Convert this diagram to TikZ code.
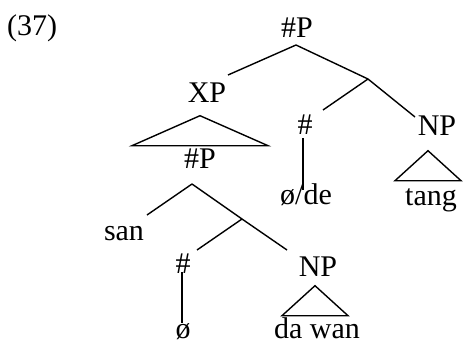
\documentclass[tikz,border=0pt]{standalone}
\usepackage{fontspec}
\setmainfont{Liberation Serif}

\begin{document}
\begin{tikzpicture}[x=1pt,y=-1pt,line width=1.4pt,
	lbl/.style={anchor=base,inner sep=0pt,font=\fontsize{30}{36}\selectfont}]
	\useasboundingbox (0,0) rectangle (463,340);
	% labels
	\node[lbl](ex) at (32,35) {(37)};
	\node[lbl](top) at (297,37) {\#P};
	\node[lbl](xp) at (207,102) {XP};
	\node[lbl](num1) at (305,134) {\#};
	\node[lbl](np1) at (437,135) {NP};
	\node[lbl](sp) at (200,168) {\#P};
	\node[lbl](de) at (306,204) {ø/de};
	\node[lbl](tang) at (431,205) {tang};
	\node[lbl](san) at (124,240) {san};
	\node[lbl](num2) at (183,273) {\#};
	\node[lbl](np2) at (318,276) {NP};
	\node[lbl](zero) at (183,338) {ø};
	\node[lbl](dawan) at (317,338) {da wan};
	% branch points and line ends
	\coordinate (top-b) at (296,45);
	\coordinate (xp-e) at (228,75);
	\coordinate (m1) at (368,79);
	\coordinate (num1-e) at (323,110);
	\coordinate (np1-e) at (415,117);
	\coordinate (num1-b) at (303,138);
	\coordinate (de-e) at (303,190);
	\coordinate (sp-b) at (192,184);
	\coordinate (san-e) at (147,215);
	\coordinate (m2) at (242,219);
	\coordinate (num2-e) at (197,250);
	\coordinate (np2-e) at (287,250);
	\coordinate (num2-b) at (182,272);
	\coordinate (zero-e) at (182,323);
	% branches
	\draw (top-b) -- (xp-e);
	\draw (top-b) -- (m1);
	\draw (m1) -- (num1-e);
	\draw (m1) -- (np1-e);
	\draw (num1-b) -- (de-e);
	\draw (sp-b) -- (san-e);
	\draw (sp-b) -- (m2);
	\draw (m2) -- (num2-e);
	\draw (m2) -- (np2-e);
	\draw (num2-b) -- (zero-e);
	% triangles
	\draw ([xshift=-7pt,yshift=-13pt]xp.south) -- ++(-68,30) -- ++(136,0) -- cycle;
	\draw ([xshift=-9pt,yshift=-15pt]np1.south) -- ++(-33,30) -- ++(66,0) -- cycle;
	\draw ([xshift=-3pt,yshift=-9pt]np2.south) -- ++(-33,30) -- ++(66,0) -- cycle;
\end{tikzpicture}
\end{document}
